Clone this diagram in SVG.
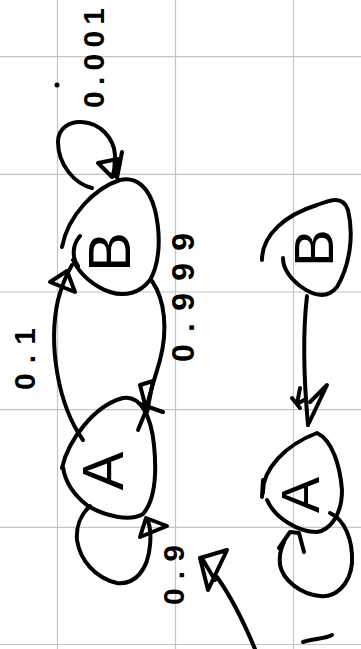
<svg xmlns="http://www.w3.org/2000/svg" width="361" height="649" viewBox="0 0 361 649">
<style>
.g{stroke:#c4c4c4;stroke-width:1.2;fill:none}
.s{stroke:#000;stroke-width:4;fill:none;stroke-linecap:round;stroke-linejoin:round}
.t{font-family:"Liberation Sans",Arial,sans-serif;fill:#000}
.n{font-family:"Liberation Sans",Arial,sans-serif;fill:#000;font-weight:bold}
</style>
<rect width="361" height="649" fill="#fff"/>
<g id="grid">
<path class="g" d="M57.5 0V649M175.5 0V649M293.5 0V649M0 56.7H361M0 174.3H361M0 292H361M0 409.7H361M0 527.4H361M0 644.5H361"/>
</g>
<g id="node-B1">
<path class="s" d="M62 247C68 215 95 188 120 180C136 176 149 187 155 210C161 235 160 263 150 280C140 293 125 297 110 292C95 287 80 275 73 260"/>
<path class="s" d="M80 236C72 245 72 258 78 266"/>
<text class="t" font-size="60" text-anchor="middle" transform="translate(130 252) rotate(-90)">B</text>
</g>
<g id="node-A1">
<path class="s" d="M62 468C68 440 95 405 123 398C140 395 151 415 154 445C157 475 155 500 143 514C130 522 105 516 88 506C75 496 65 482 63 467"/>
<text class="t" font-size="58" text-anchor="middle" transform="translate(123 471) rotate(-90)">A</text>
</g>
<g id="node-B2">
<path class="s" d="M262 260C262 235 285 215 317 205C330 200 343 195 348 210C354 235 350 265 337 287C328 298 315 297 300 286C290 278 283 268 283 258"/>
<text class="t" font-size="56" text-anchor="middle" transform="translate(333 248) rotate(-90)">B</text>
</g>
<g id="node-A2">
<path class="s" d="M263 493C262 470 285 445 317 433C332 440 340 465 342 490C342 515 330 530 317 532C298 532 275 518 267 500M263 480L262 497"/>
<text class="t" font-size="54" text-anchor="middle" transform="translate(319 495) rotate(-90)">A</text>
</g>
<g id="connectors">
<path class="s" d="M92 188C75 184 58 165 58 142C58 128 70 121 82 122C100 123 114 138 115 155L114 176"/>
<path class="s" d="M98 163L118 159L112 177ZM122 152L117 178"/>
<path class="s" d="M83 440C58 405 48 345 58 300C62 285 66 275 72 265"/>
<path class="s" d="M50 282L67 271L75 292Z"/>
<path class="s" d="M152 281C165 300 168 330 160 360C155 378 150 392 146 410"/>
<path class="s" d="M140 385L153 381L147 412ZM140 404L163 412M138 430L147 408"/>
<path class="s" d="M90 506C80 515 76 528 77 540C80 560 95 578 117 583C135 585 148 570 150 545C151 535 150 525 147 519"/>
<path class="s" d="M140 537L146 518L167 526Z"/>
<path class="s" d="M255 649C245 625 232 598 217 577"/>
<path class="s" d="M200 558L227 550L208 590ZM203 560L215 580"/>
<path class="s" d="M307 296C303 330 303 370 308 425"/>
<path class="s" d="M308 425L327 385L310 402M300 388L297 404L306 399M292 398L300 408"/>
<path class="s" d="M330 513C345 520 353 540 352 563C350 585 335 598 320 596C300 594 283 580 280 565C279 556 281 548 284 542"/>
<path class="s" d="M279 548L290 532L299 533L304 552"/>
<path class="s" d="M303 642C315 638 325 639 332 635"/>
</g>
<g id="labels">
<circle cx="57" cy="85" r="2.5"/>
<text class="n" font-size="30" textLength="100" lengthAdjust="spacing" transform="translate(104 108) rotate(-90)">0.001</text>
<text class="n" font-size="30" textLength="62" lengthAdjust="spacing" transform="translate(35 390) rotate(-90)">0.1</text>
<text class="n" font-size="32" textLength="129" lengthAdjust="spacing" transform="translate(194 362) rotate(-90)">0.999</text>
<text class="n" font-size="30" textLength="60" lengthAdjust="spacing" transform="translate(184 605) rotate(-90)">0.9</text>
</g>
</svg>
